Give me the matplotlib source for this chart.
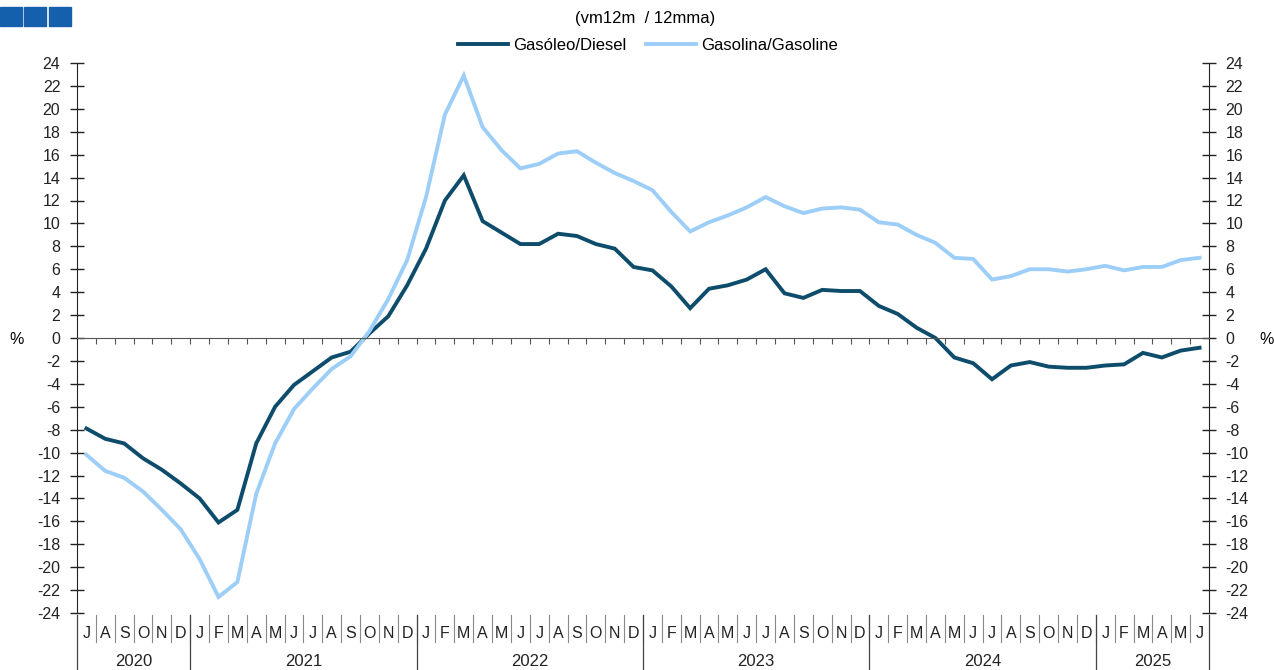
import numpy as np
import matplotlib
matplotlib.use("Agg")
from matplotlib import pyplot as plt
from matplotlib import transforms
from matplotlib.patches import Rectangle

plt.rcParams['font.family'] = ['Liberation Sans', 'DejaVu Sans']
plt.rcParams['axes.unicode_minus'] = False

# monthly data, Jul 2020 .. Jun 2025 (vm12m / 12mma, %)
months = ['J', 'A', 'S', 'O', 'N', 'D'] + ['J', 'F', 'M', 'A', 'M', 'J', 'J', 'A', 'S', 'O', 'N', 'D'] * 4 \
    + ['J', 'F', 'M', 'A', 'M', 'J']
years = ['2020', '2021', '2022', '2023', '2024', '2025']
year_months = [6, 12, 12, 12, 12, 6]

diesel = [-7.9, -8.8, -9.2, -10.5, -11.5, -12.7, -14.0, -16.1, -15.0, -9.2,
          -6.0, -4.1, -2.9, -1.7, -1.2, 0.4, 1.9, 4.6, 7.8, 12.0,
          14.2, 10.2, 9.2, 8.2, 8.2, 9.1, 8.9, 8.2, 7.8, 6.2,
          5.9, 4.5, 2.6, 4.3, 4.6, 5.1, 6.0, 3.9, 3.5, 4.2,
          4.1, 4.1, 2.8, 2.1, 0.9, 0.0, -1.7, -2.2, -3.6, -2.4,
          -2.1, -2.5, -2.6, -2.6, -2.4, -2.3, -1.3, -1.7, -1.1, -0.85]
gasoline = [-10.2, -11.6, -12.2, -13.4, -15.0, -16.7, -19.3, -22.6, -21.3, -13.6,
            -9.2, -6.2, -4.4, -2.7, -1.6, 0.6, 3.4, 6.8, 12.3, 19.5,
            22.9, 18.4, 16.4, 14.8, 15.2, 16.1, 16.3, 15.3, 14.4, 13.7,
            12.9, 11.0, 9.3, 10.1, 10.7, 11.4, 12.3, 11.5, 10.9, 11.3,
            11.4, 11.2, 10.1, 9.9, 9.0, 8.3, 7.0, 6.9, 5.1, 5.4,
            6.0, 6.0, 5.8, 6.0, 6.3, 5.9, 6.2, 6.2, 6.8, 7.0]

dark = '#0E4C6B'
light = '#9CCEF8'
fs = 11.5

W, H = 1274, 670
fig = plt.figure(figsize=(W / 100, H / 100), dpi=100)
ax = fig.add_axes([77 / W, 1 - 613 / H, (1209 - 77) / W, (613 - 63) / H])

x = np.arange(len(diesel))
ax.plot(x, diesel, color=dark, lw=2.8, label='Gasóleo/Diesel', solid_joinstyle='miter')
ax.plot(x, gasoline, color=light, lw=2.8, label='Gasolina/Gasoline', solid_joinstyle='miter')

ax.set_xlim(-0.5, len(diesel) - 0.5)
ax.set_ylim(-24, 24)
ax.set_yticks(np.arange(-24, 25, 2))
ax.tick_params(axis='y', direction='inout', length=10, width=1, labelsize=fs, colors='#222222',
               pad=7, left=True, right=True, labelleft=True, labelright=True)

# x axis drawn at zero with small tick marks at month boundaries
ax.spines['top'].set_visible(False)
ax.spines['bottom'].set_position(('data', 0))
ax.spines['bottom'].set_color('#555555')
ax.spines['left'].set_color('#222222')
ax.spines['right'].set_color('#222222')
ax.set_xticks(np.arange(0.5, len(diesel) - 0.5, 1))
ax.tick_params(axis='x', direction='out', length=4, width=0.8, colors='#555555', labelbottom=False)

# category labels under the plot
trans = transforms.blended_transform_factory(ax.transData, fig.transFigure)
y_top = 1 - 615 / H
y_msep = 1 - 642 / H
y_month = 1 - 634 / H
y_year = 1 - 662 / H
for i, m in enumerate(months):
    ax.text(i, y_month, m, transform=trans, ha='center', va='center', fontsize=fs, color='#222222')
    if i > 0:
        ax.plot([i - 0.5, i - 0.5], [y_top, y_msep], transform=trans, color='#888888', lw=0.8, clip_on=False)

start = -0.5
for yr, n in zip(years, year_months):
    ax.text(start + n / 2, y_year, yr, transform=trans, ha='center', va='center', fontsize=12, color='#222222')
    start += n
    ax.plot([start, start], [y_top, 0], transform=trans, color='#444444', lw=0.9, clip_on=False)
ax.plot([-0.5, -0.5], [y_top, 0], transform=trans, color='#444444', lw=0.9, clip_on=False)

fig.text(17 / W, 1 - 340 / H, '%', ha='center', va='center', fontsize=fs)
fig.text(1267 / W, 1 - 340 / H, '%', ha='center', va='center', fontsize=fs)

fig.text(645 / W, 1 - 18 / H, '(vm12m  / 12mma)', ha='center', va='center', fontsize=12)
fig.legend(loc='center', bbox_to_anchor=(648 / W, 1 - 45 / H), ncol=2, frameon=False,
           fontsize=12, handlelength=3.0, handletextpad=0.3, columnspacing=1.2)

# three blue squares top-left
for x0 in [0, 24, 49]:
    fig.patches.append(Rectangle((x0 / W, 1 - 26 / H), 22 / W, 19 / H, transform=fig.transFigure,
                                 color='#1560AC', zorder=5))

fig.savefig('out.png', dpi=100)
